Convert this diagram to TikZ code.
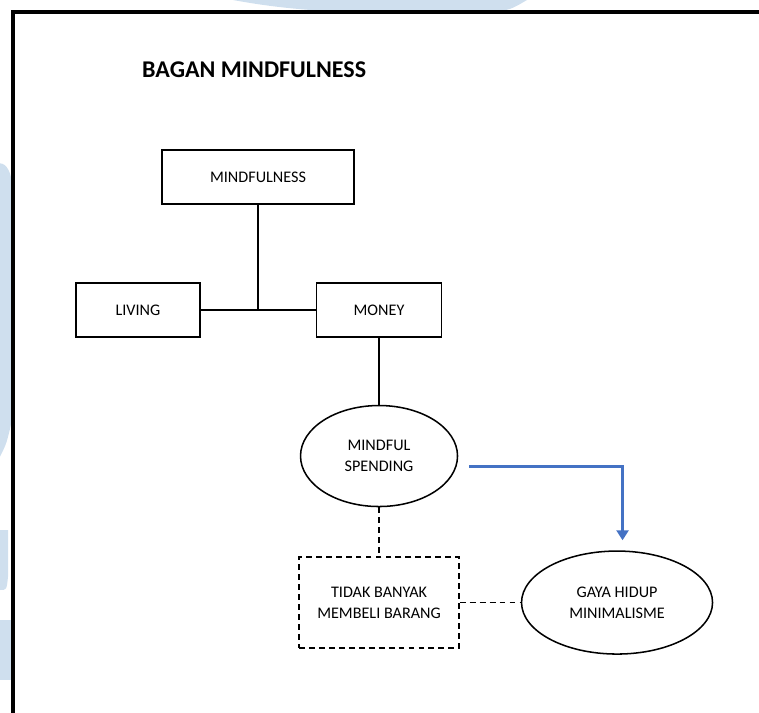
\documentclass[tikz,border=0pt]{standalone}
\usepackage{fontspec}
\setmainfont{Carlito}
\usepackage{xcolor}
\usetikzlibrary{shapes.geometric, arrows.meta, positioning, calc}

\definecolor{markblue}{RGB}{207,223,238}
\definecolor{flowblue}{RGB}{68,114,196}

\begin{document}
\begin{tikzpicture}[
    node distance=1.5cm,
    box/.style={rectangle, draw=black, line width=1.3pt, minimum height=1.62cm, align=center, font=\fontsize{13.8}{18}\selectfont},
    oval/.style={ellipse, draw=black, line width=1.3pt, inner sep=0pt, align=center, font=\fontsize{13.8}{18}\selectfont},
    dashbox/.style={box, dash pattern=on 5pt off 3.5pt},
    link/.style={line width=1.3pt},
    dashlink/.style={line width=1.3pt, dash pattern=on 5pt off 3.5pt},
    flow/.style={-{Triangle[width=0.36cm,length=0.3cm]}, line width=2.6pt, draw=flowblue}
]
    \useasboundingbox (0,0) rectangle (22.77,-21.39);

    % watermark behind the page
    \fill[markblue] (6.99,0) .. controls (8.6,-0.3) and (10,-0.36) .. (11.0,-0.36)
        -- (14.7,-0.36) .. controls (15.3,-0.3) .. (15.81,0) -- cycle;
    \fill[markblue] (0,-4.9) .. controls (0.2,-4.9) and (0.36,-5.2) .. (0.36,-5.6)
        -- (0.36,-12.6) .. controls (0.2,-13.3) .. (0,-13.7) -- cycle;
    \fill[markblue] (0,-15.9) -- (0.24,-15.9) -- (0.24,-17.3) .. controls (0.2,-17.7) .. (0,-17.7) -- cycle;
    \fill[markblue] (0,-18.6) -- (0.36,-18.6) -- (0.36,-20.4) -- (0,-20.4) -- cycle;

    % page frame
    \draw[line width=3pt] (0.39,-21.39) -- (0.39,-0.36) -- (22.77,-0.36);

    \node[anchor=west, inner sep=0pt, font=\fontsize{20.5}{24}\selectfont\bfseries] (title) at (4.26,-2.1) {BAGAN MINDFULNESS};

    \node[box, minimum width=5.76cm] (mindful) at (7.74,-5.31) {MINDFULNESS};
    \node[box, minimum width=3.72cm] (living) at (4.14,-9.3) {LIVING};
    \node[box, minimum width=3.75cm, right=3.45cm of living] (money) {MONEY};
    \node[oval, minimum width=4.71cm, minimum height=3.03cm, below=2.01cm of money] (spend) {MINDFUL\\SPENDING};
    \node[dashbox, minimum width=4.8cm, minimum height=2.73cm, below=1.47cm of spend] (tidak) {TIDAK BANYAK\\MEMBELI BARANG};
    \node[oval, minimum width=5.73cm, minimum height=3.09cm, right=1.83cm of tidak] (gaya) {GAYA HIDUP\\MINIMALISME};

    \draw[link] (living.east) -- (money.west);
    \draw[link] (mindful.south) -- (mindful.south |- living.east);
    \draw[link] (money.south) -- (spend.north);
    \draw[dashlink] (spend.south) -- (tidak.north);
    \draw[dashlink] (tidak.east) -- (gaya.west);
    \draw[flow, shorten >=0.3cm] ([shift={(0.33cm,-0.3cm)}]spend.east) -| ([xshift=0.165cm]gaya.north);
\end{tikzpicture}
\end{document}
